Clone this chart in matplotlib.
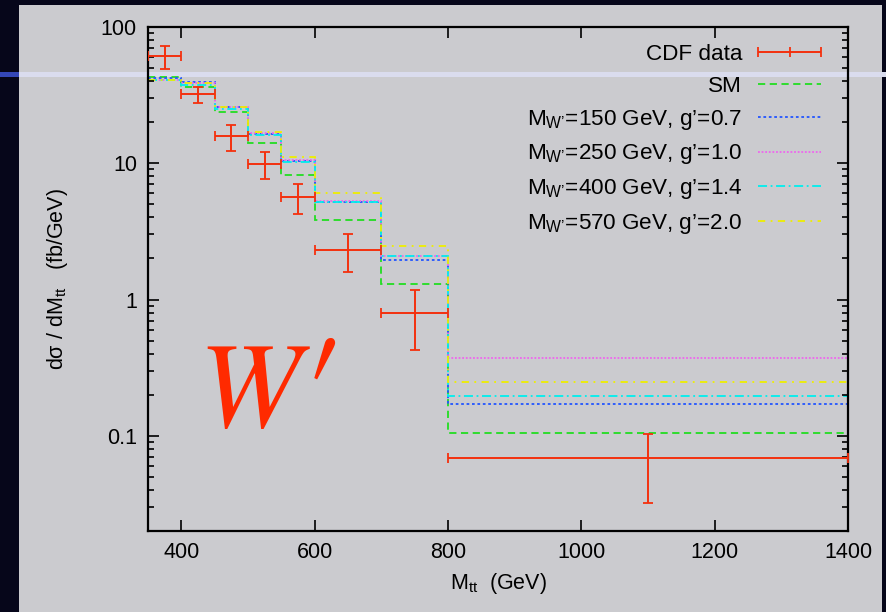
import matplotlib.pyplot as plt
import numpy as np
from matplotlib.patches import Rectangle
from matplotlib.legend_handler import HandlerErrorbar
from matplotlib.ticker import FixedLocator, LogLocator, NullFormatter, FuncFormatter

plt.rcParams['font.family'] = ['Liberation Sans', 'DejaVu Sans']
plt.rcParams['mathtext.fontset'] = 'custom'
plt.rcParams['mathtext.rm'] = 'Liberation Sans'
plt.rcParams['mathtext.it'] = 'Liberation Sans:italic'

# bin edges (GeV)
edges = [350, 400, 450, 500, 550, 600, 700, 800, 1400]

# CDF data
data_x = [375, 425, 475, 525, 575, 650, 750, 1100]
data_xerr = [25, 25, 25, 25, 25, 50, 50, 300]
data_y = [61, 32, 15.8, 9.9, 5.65, 2.32, 0.80, 0.0686]
data_up = [72, 36, 19.2, 12.1, 7.1, 3.04, 1.17, 0.1035]
data_lo = [49, 27.6, 12.4, 7.6, 4.27, 1.58, 0.427, 0.0323]

# predictions per bin
sm = [42.7, 36.0, 23.6, 14.0, 8.2, 3.81, 1.30, 0.105]
w150 = [42.0, 39.2, 25.7, 16.5, 10.4, 5.2, 1.96, 0.171]
w250 = [41.0, 39.0, 25.8, 16.8, 10.5, 5.28, 2.10, 0.375]
w400 = [40.5, 37.5, 24.9, 16.0, 10.2, 5.23, 2.07, 0.197]
w570 = [40.8, 38.5, 26.0, 17.0, 11.2, 6.01, 2.49, 0.248]

fig = plt.figure(figsize=(8.86, 6.12), dpi=100, facecolor='#06061a')
# slide decoration: grey panel and light band
fig.patches.append(Rectangle((0, 1 - 77/612), 1, 5/612, transform=fig.transFigure,
                             facecolor='#3447b8', edgecolor='none', zorder=-3))
fig.patches.append(Rectangle((19/886, 0), 863/886, 607/612, transform=fig.transFigure,
                             facecolor='#cbcbcf', edgecolor='none', zorder=-2))
fig.patches.append(Rectangle((19/886, 1 - 77/612), 867/886, 5/612, transform=fig.transFigure,
                             facecolor='#dadcee', edgecolor='none', zorder=-1))

ax = fig.add_axes([148/886, 81/612, 700/886, 504/612])
ax.set_zorder(5)
ax.set_facecolor('none')
ax.set_yscale('log')
ax.set_xlim(350, 1400)
ax.set_ylim(0.02, 100)

red = '#f4300e'
yerr = [np.array(data_y) - np.array(data_lo), np.array(data_up) - np.array(data_y)]
ax.errorbar(data_x, data_y, xerr=data_xerr, yerr=yerr, fmt='none', ecolor=red,
            elinewidth=1.4, capsize=3.5, capthick=1.3, zorder=5)
# legend sample: horizontal bar with end caps and a centre tick
proxy = ax.errorbar([np.nan], [np.nan], xerr=[1], fmt='|', color=red, ms=7, mew=1.3,
                    elinewidth=1.4, capsize=3.5, capthick=1.3, label='CDF data')

ax.stairs(sm, edges, baseline=None, color='#22dd22', ls=(0, (4, 2.5)), lw=1.3, label='SM')
ax.stairs(w150, edges, baseline=None, color='#2255ff', ls=(0, (1.5, 1.5)), lw=1.3,
          label='M$_{\\mathrm{W\u2019}}$=150 GeV, g\u2019=0.7')
ax.stairs(w250, edges, baseline=None, color='#ee66ee', ls=(0, (1, 1)), lw=1.3,
          label='M$_{\\mathrm{W\u2019}}$=250 GeV, g\u2019=1.0')
ax.stairs(w400, edges, baseline=None, color='#00eeee', ls=(0, (5, 2, 1, 2)), lw=1.3,
          label='M$_{\\mathrm{W\u2019}}$=400 GeV, g\u2019=1.4')
ax.stairs(w570, edges, baseline=None, color='#eeee00', ls=(0, (4, 3, 1, 3)), lw=1.3,
          label='M$_{\\mathrm{W\u2019}}$=570 GeV, g\u2019=2.0')

ax.xaxis.set_major_locator(FixedLocator([400, 600, 800, 1000, 1200, 1400]))
ax.yaxis.set_major_locator(LogLocator(base=10))
ax.yaxis.set_minor_locator(LogLocator(base=10, subs=np.arange(2, 10)))
ax.yaxis.set_minor_formatter(NullFormatter())
ax.yaxis.set_major_formatter(FuncFormatter(lambda v, p: '%g' % v))
ax.tick_params(which='both', direction='in', top=True, right=True, labelsize=15.5,
               width=1.2, color='black')
ax.tick_params(which='major', length=8, pad=8)
ax.tick_params(which='minor', length=4.5)
for s in ax.spines.values():
    s.set_linewidth(1.6)

ax.set_xlabel('M$_{\\mathrm{tt}}$  (GeV)', fontsize=15.5, labelpad=6)
ax.set_ylabel('d\u03c3 / dM$_{\\mathrm{tt}}$   (fb/GeV)', fontsize=15.5, labelpad=22)

ax.text(0.072, 0.207, 'W', transform=ax.transAxes, fontsize=88, color='#ff2a00',
        family='STIXGeneral', style='italic')
ax.text(0.221, 0.385, '\u2032', transform=ax.transAxes, fontsize=108, color='#ff2a00',
        family='STIXGeneral', va='top')

handles, labels = ax.get_legend_handles_labels()
order = [labels.index('CDF data')] + [i for i, l in enumerate(labels) if l != 'CDF data']
leg = ax.legend([handles[i] for i in order], [labels[i] for i in order],
                loc='upper right', bbox_to_anchor=(1, 1 + 10/504),
                frameon=False, markerfirst=False, fontsize=16.2,
                handlelength=2.8, handletextpad=0.7, labelspacing=0.48,
                borderaxespad=0.8,
                handler_map={type(proxy): HandlerErrorbar(xerr_size=1.4)})

fig.savefig('out.png', dpi=100, facecolor=fig.get_facecolor())
